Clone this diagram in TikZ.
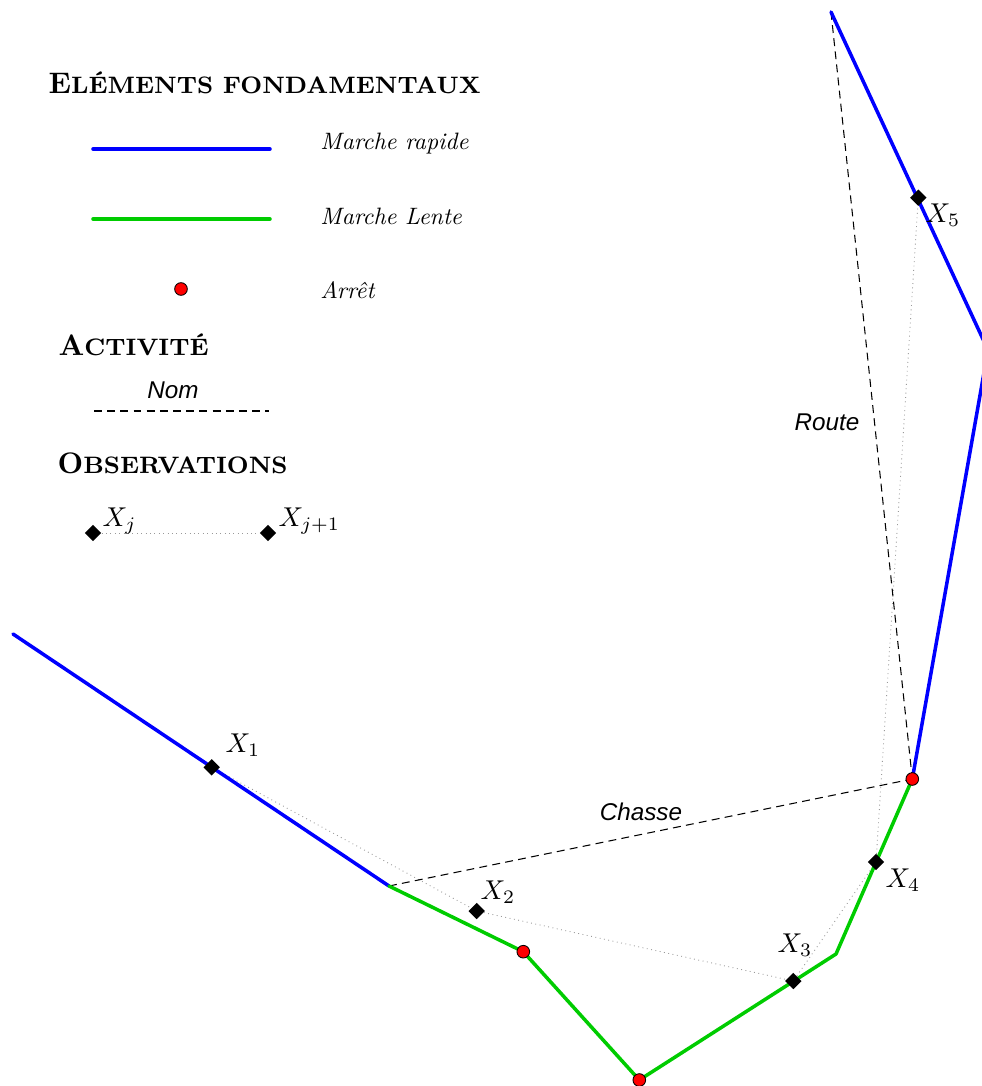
\documentclass[tikz,border=0pt]{standalone}
\usepackage{fontspec}
\newfontfamily\lblsans{Liberation Sans}
\usetikzlibrary{shapes.geometric,positioning}
\definecolor{FastBlue}{RGB}{0,0,255}
\definecolor{SlowGreen}{RGB}{0,204,0}
\definecolor{StopRed}{RGB}{255,0,0}
\pgfdeclarelayer{background}
\pgfsetlayers{background,main}
\tikzset{
  fastpath/.style={draw=FastBlue,line width=2pt,line cap=round,line join=round},
  slowpath/.style={draw=SlowGreen,line width=2pt,line cap=round,line join=round},
  stopdot/.style={circle,draw=black,fill=StopRed,inner sep=0pt,minimum size=7.2pt,line width=0.5pt},
  obsmark/.style={diamond,fill=black,inner sep=0pt,minimum width=9.5pt,minimum height=9.5pt},
  obslink/.style={draw=gray!80,dotted,line width=0.5pt},
  actlink/.style={draw=black,dash pattern=on 4.5pt off 3pt,line width=0.6pt},
  obslbl/.style={anchor=north west,inner sep=0pt,font=\fontsize{10}{12}\selectfont,scale=1.55,transform shape},
  legtext/.style={anchor=base west,inner sep=0pt,font=\fontsize{10}{12}\selectfont\itshape,scale=1.35,transform shape},
  acttext/.style={anchor=base,inner sep=0pt,font=\fontsize{13.8}{16}\selectfont\lblsans\itshape},
  legtitle/.style={anchor=base west,inner sep=0pt,scale=1.69,transform shape}
}
\newcommand{\legcaps}[2]{{\bfseries\fontsize{10}{12}\selectfont #1\fontsize{8}{10}\selectfont #2}}

\begin{document}
\begin{tikzpicture}[x=0.02cm,y=-0.02cm]
\useasboundingbox (0,0) rectangle (982,1086);
\clip (0,0) rectangle (982,1086);

% legende
\node[legtitle] (tElem) at (48,93) {\legcaps{E}{LÉMENTS FONDAMENTAUX}};
\coordinate (lfA) at (93,149);
\coordinate (lfB) at (270,149);
\draw[fastpath] (lfA) -- (lfB);
\node[legtext] (tFast) at (320,149.3) {Marche rapide};
\coordinate (lsA) at (93,219);
\coordinate (lsB) at (270,219);
\draw[slowpath] (lsA) -- (lsB);
\node[legtext] (tSlow) at (320,224) {Marche Lente};
\node[stopdot] (lStop) at (181,289) {};
\node[legtext] (tStop) at (320,298.3) {Arrêt};

\node[legtitle] (tAct) at (58,355) {\legcaps{A}{CTIVITÉ}};
\coordinate (laA) at (94,411);
\coordinate (laB) at (269,411);
\draw[actlink] (laA) -- (laB);
\node[acttext] (tNom) at (173,398) {Nom};

\node[legtitle] (tObs) at (57,473) {\legcaps{O}{BSERVATIONS}};
\node[obsmark] (lXa) at (93,533) {};
\node[obsmark] (lXb) at (268,533) {};
\node[obslbl] (tXa) at (102,507) {$X_j$};
\node[obslbl] (tXb) at (278,507) {$X_{j+1}$};

% trajectoire
\coordinate (pStart) at (13,634);
\coordinate (pSwitch) at (389,886);
\coordinate (pBend) at (836,954);
\coordinate (pApex) at (988,350);
\coordinate (pEnd) at (831,12);
\node[stopdot] (s1) at (523.3,951.7) {};
\node[stopdot] (s2) at (639.3,1080) {};
\node[stopdot] (s3) at (912.3,779) {};

% observations
\node[obsmark] (X1) at (211.7,767.3) {};
\node[obsmark] (X2) at (476.7,911) {};
\node[obsmark] (X3) at (793.3,981) {};
\node[obsmark] (X4) at (876,862) {};
\node[obsmark] (X5) at (918.3,197.7) {};

\begin{pgfonlayer}{background}
  \draw[obslink] (lXa) -- (lXb);
  \draw[obslink] (X1) -- (X2) -- (X3) -- (X4) -- (X5);
  \draw[actlink] (pSwitch) -- (s3.center);
  \draw[actlink] (pEnd) -- (s3.center);
  \draw[fastpath] (pStart) -- (pSwitch);
  \draw[slowpath] (pSwitch) -- (s1.center) -- (s2.center) -- (pBend) -- (s3.center);
  \draw[fastpath] (s3.center) -- (pApex) -- (pEnd);
\end{pgfonlayer}

\node[acttext] (tChasse) at (641,820) {Chasse};
\node[acttext] (tRoute) at (827,430) {Route};
\node[obslbl] (tX1) at (225,733) {$X_1$};
\node[obslbl] (tX2) at (480,880) {$X_2$};
\node[obslbl] (tX3) at (777,933) {$X_3$};
\node[obslbl] (tX4) at (885,868) {$X_4$};
\node[obslbl] (tX5) at (925,203) {$X_5$};
\end{tikzpicture}
\end{document}
